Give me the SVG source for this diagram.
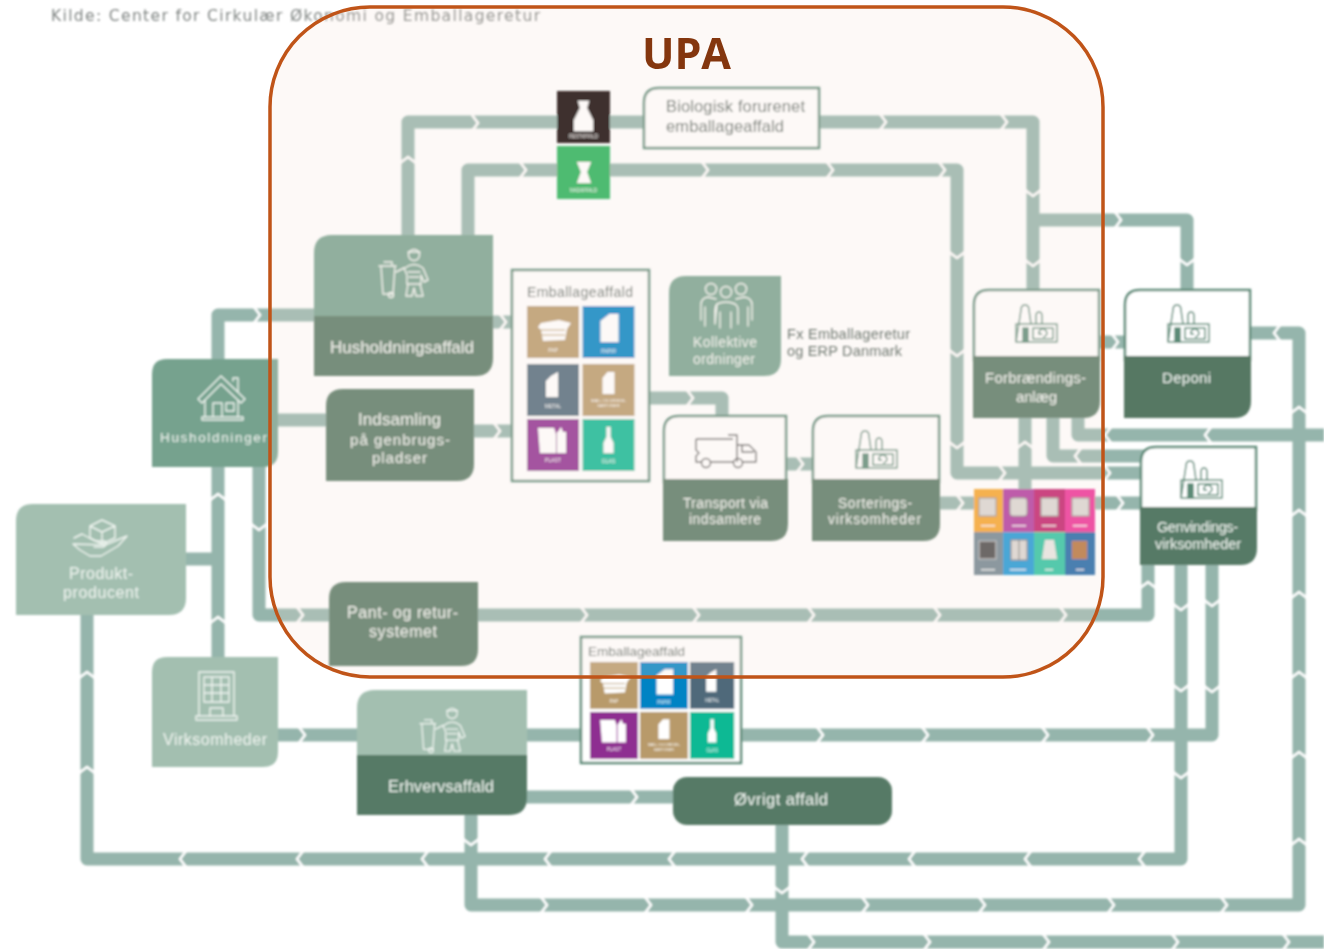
<svg xmlns="http://www.w3.org/2000/svg" xmlns:xlink="http://www.w3.org/1999/xlink" width="1324" height="949" viewBox="0 0 1324 949">
<style>
text{font-family:"Liberation Sans","Noto Sans",sans-serif}
.ln{fill:none;stroke:#95b5ac;stroke-width:13;stroke-linejoin:round}
.cv{fill:none;stroke:#fff;stroke-width:2.5}
.lt{fill:#eef4ef}
.dk{fill:#4f5f58}
.ic{fill:none;stroke:#eef4ef;stroke-width:1.4;stroke-linejoin:round;stroke-linecap:round}
.fc{fill:none;stroke:#5b8a77;stroke-width:1.5;stroke-linejoin:round}
.hd{fill:#fff;stroke:#5b8a77;stroke-width:2.5}
.tl{fill:#fff;font-size:5px;text-anchor:middle}
.w{fill:#fff}
</style>
<defs>
<filter id="soft" x="0" y="0" width="1324" height="949" filterUnits="userSpaceOnUse"><feGaussianBlur stdDeviation="0.8"/></filter>
<path id="cr" class="cv" d="M-3-8 3 0-3 8"/>
<path id="cl" class="cv" d="M3-8-3 0 3 8"/>
<path id="cu" class="cv" d="M-8 3 0-3 8 3"/>
<path id="cd" class="cv" d="M-8-3 0 3 8-3"/>
<g id="factory" class="fc">
<path d="M1 40 6 8Q6 3 10 3T14 8L16 22"/><path d="M21 22V14Q21 10 24 10T27 14V22"/><rect x="1" y="22" width="41" height="18"/><rect x="8" y="26" width="5" height="14" fill="#5b8a77"/><rect x="18" y="26" width="20" height="11"/><path d="M24 32a4 4 0 1 1 4 3M24 29v3h3"/>
</g>
<g id="worker" class="ic">
<path d="M1 18H18M3 18 5 46H15L17 18M6 14H14V18"/><circle cx="13" cy="47" r="2.5"/><path d="M18 24 26 20"/>
<circle cx="36" cy="7" r="5.5"/><path d="M30 4H42M27 20Q36 13 45 20L50 32 46 34 43 27V36H29V27L26 20M30 36 28 48H34L36 40 38 48H45L42 36M30 24H42M31 29H41"/>
</g>
<g id="t-pap"><rect width="52" height="52" fill="#b89a6a"/><path class="w" d="M14 17 32 14 44 17 40 23 38 34 16 35 14 24 11 21Z"/><path d="M13 24H38M14 29H38" stroke="#b89a6a" stroke-width="1"/><text class="tl" x="26" y="46">PAP</text></g>
<g id="t-papir"><rect width="52" height="52" fill="#0083c4"/><path class="w" d="M18 15 27 8H36V36H18Z"/><text class="tl" x="26" y="47">PAPIR</text></g>
<g id="t-metal"><rect width="52" height="52" fill="#50697a"/><path class="w" d="M19 17 24 12 31 8V33H19Z"/><text class="tl" x="26" y="44">METAL</text></g>
<g id="t-kart"><rect width="52" height="52" fill="#b89a6a"/><path class="w" d="M20 14 25 8H32V30H20Z"/><text class="tl" x="26" y="38" style="font-size:4px">MAD- OG DRIKKE-</text><text class="tl" x="26" y="43" style="font-size:4px">KARTONER</text></g>
<g id="t-plast"><rect width="52" height="52" fill="#8e2f91"/><path class="w" d="M11 9H27L29 15V34H13ZM31 13 34 8 36 13H39V34H30V13Z"/><text class="tl" x="26" y="43">PLAST</text></g>
<g id="t-glas"><rect width="52" height="52" fill="#0bb994"/><path class="w" d="M24 8H28V18L31 24V34H21V24L24 18Z"/><text class="tl" x="26" y="44">GLAS</text></g>
</defs>

<g filter="url(#soft)">
<text x="51" y="21" font-size="15.5" fill="#808583" textLength="489" style="font-family:'DejaVu Sans',sans-serif">Kilde: Center for Cirkulær Økonomi og Emballageretur</text>

<g id="connectors">
<path class="ln" d="M408 240V122H1033V295"/>
<path class="ln" d="M1033 220H1187V295"/>
<path class="ln" d="M468 240V170H957V473H1145"/>
<path class="ln" d="M1025 415V495"/>
<path class="ln" d="M1053 415V456H1145"/>
<path class="ln" d="M1078 415V435H1324"/>
<path class="ln" d="M1095 342H1130"/>
<path class="ln" d="M1245 333H1299V905H471V810"/>
<path class="ln" d="M87 610V859H1181V560"/>
<path class="ln" d="M1212 560V735H270"/>
<path class="ln" d="M259 460V615H1148V560"/>
<path class="ln" d="M320 315H218V365"/>
<path class="ln" d="M270 420H330"/>
<path class="ln" d="M218 460V665"/>
<path class="ln" d="M180 559H218"/>
<path class="ln" d="M470 431H515"/>
<path class="ln" d="M488 322H515"/>
<path class="ln" d="M645 398H722V420"/>
<path class="ln" d="M782 464H818"/>
<path class="ln" d="M935 503H1145"/>
<path class="ln" d="M520 797H680"/>
<path class="ln" d="M782 820V942H1324"/>
<use href="#cu" x="408" y="160"/><use href="#cr" x="475" y="123"/><use href="#cr" x="883" y="122"/><use href="#cr" x="1004" y="122"/><use href="#cd" x="1033" y="193"/><use href="#cd" x="1033" y="263"/>
<use href="#cr" x="1118" y="220"/><use href="#cd" x="1187" y="262"/>
<use href="#cr" x="523" y="170"/><use href="#cr" x="705" y="170"/><use href="#cr" x="830" y="170"/><use href="#cr" x="942" y="170"/><use href="#cd" x="957" y="255"/><use href="#cd" x="957" y="353"/><use href="#cd" x="957" y="445"/><use href="#cr" x="1002" y="473"/><use href="#cr" x="1107" y="473"/>
<use href="#cu" x="1025" y="445"/><use href="#cl" x="1078" y="456"/><use href="#cl" x="1108" y="435"/><use href="#cl" x="1208" y="435"/>
<use href="#cr" x="1115" y="342"/><use href="#cl" x="1277" y="333"/>
<use href="#cu" x="1299" y="410"/><use href="#cu" x="1299" y="513"/><use href="#cu" x="1299" y="595"/><use href="#cu" x="1299" y="675"/><use href="#cu" x="1299" y="755"/><use href="#cu" x="1299" y="842"/>
<use href="#cr" x="544" y="905"/><use href="#cr" x="648" y="905"/><use href="#cr" x="749" y="905"/><use href="#cr" x="865" y="905"/><use href="#cr" x="982" y="905"/><use href="#cr" x="1111" y="905"/><use href="#cr" x="1224" y="905"/><use href="#cd" x="471" y="842"/>
<use href="#cl" x="1142" y="859"/><use href="#cl" x="1028" y="859"/><use href="#cl" x="912" y="859"/><use href="#cl" x="805" y="859"/><use href="#cl" x="672" y="859"/><use href="#cl" x="548" y="859"/><use href="#cl" x="425" y="859"/><use href="#cl" x="300" y="859"/><use href="#cl" x="183" y="859"/><use href="#cu" x="87" y="675"/><use href="#cu" x="87" y="770"/>
<use href="#cd" x="1181" y="607"/><use href="#cd" x="1181" y="688"/><use href="#cd" x="1181" y="775"/>
<use href="#cd" x="1212" y="603"/><use href="#cd" x="1212" y="689"/><use href="#cr" x="1045" y="735"/><use href="#cr" x="1150" y="735"/><use href="#cr" x="820" y="735"/><use href="#cr" x="925" y="735"/><use href="#cr" x="302" y="735"/>
<use href="#cu" x="1148" y="585"/><use href="#cr" x="1063" y="615"/><use href="#cr" x="937" y="615"/><use href="#cr" x="811" y="615"/><use href="#cr" x="696" y="615"/><use href="#cr" x="584" y="615"/><use href="#cr" x="300" y="615"/><use href="#cd" x="259" y="527"/>
<use href="#cr" x="257" y="315"/><use href="#cu" x="218" y="497"/><use href="#cu" x="218" y="620"/><use href="#cr" x="497" y="431"/><use href="#cr" x="503" y="322"/>
<use href="#cr" x="690" y="398"/><use href="#cr" x="800" y="464"/><use href="#cr" x="960" y="503"/><use href="#cr" x="1120" y="503"/><use href="#cr" x="634" y="797"/>
<use href="#cd" x="782" y="890"/><use href="#cr" x="811" y="942"/><use href="#cr" x="927" y="942"/><use href="#cr" x="1046" y="942"/><use href="#cr" x="1175" y="942"/><use href="#cr" x="1286" y="942"/>
</g>

<g id="node-biologisk">
<rect x="557" y="91" width="53" height="52" fill="#0e0606"/>
<path class="w" d="M578 101H589L587 108 593 120V131H574V120L580 108Z"/>
<text class="tl" x="583.5" y="138" style="font-size:4.5px">RESTAFFALD</text>
<rect x="557" y="146" width="53" height="53" fill="#20b157"/>
<path class="w" d="M577 162H591L587 172 591 183H577L581 172Z"/>
<text class="tl" x="583.5" y="192" style="font-size:4.5px">MADAFFALD</text>
<path class="hd" d="M659 88H819V148H644V103Q644 88 659 88Z"/>
<text class="dk" x="666" y="112" font-size="16.5" textLength="139">Biologisk forurenet</text>
<text class="dk" x="666" y="132" font-size="16.5" textLength="118">emballageaffald</text>
</g>

<g id="node-husholdningsaffald">
<path fill="#76a28e" d="M332 235H493V318H314V253Q314 235 332 235Z"/>
<path fill="#577864" d="M314 316H493V358Q493 376 475 376H314Z"/>
<use href="#worker" transform="translate(378 248)"/>
<text class="lt" x="330" y="353" font-size="17" textLength="144">Husholdningsaffald</text>
</g>

<g id="node-husholdninger">
<path fill="#76a28e" d="M167 359H278V452Q278 467 263 467H152V374Q152 359 167 359Z"/>
<g class="ic"><path d="M198 399 221 376 245 399 241 403 221 384 202 403ZM233 381V378H238V392M205 400V417H238V400M213 417V403H222V417M226 403H234V411H226ZM202 420H243V417H202Z"/></g>
<text class="lt" x="160" y="442" font-size="13.5" textLength="107">Husholdninger</text>
</g>

<g id="node-indsamling">
<path fill="#577864" d="M343 389H474V464Q474 481 457 481H326V406Q326 389 343 389Z"/>
<text class="lt" x="358" y="425" font-size="17" textLength="83">Indsamling</text>
<text class="lt" x="350" y="445" font-size="15" textLength="100">på genbrugs-</text>
<text class="lt" x="372" y="463" font-size="15" textLength="55">pladser</text>
</g>

<g id="node-produkt">
<path fill="#a3bfb0" d="M33 504H186V598Q186 615 169 615H16V521Q16 504 33 504Z"/>
<g class="ic"><path d="M90 526 102 520 115 526V538L102 544 90 538ZM90 526 102 532 115 526M102 532V544"/><path d="M74 538 82 534 95 541H105Q108 545 103 547H94M105 545 127 536 118 546 101 556H90L80 550 73 544Z"/></g>
<text class="lt" x="69" y="579" font-size="16" textLength="64">Produkt-</text>
<text class="lt" x="63" y="598" font-size="16" textLength="76">producent</text>
</g>

<g id="node-virksomheder">
<path fill="#a3bfb0" d="M167 657H278V752Q278 767 263 767H152V672Q152 657 167 657Z"/>
<g class="ic"><path d="M199 672H234V716H199ZM196 716H237V720H196Z"/><path d="M204 677H229V702H204ZM204 685H229M204 693H229M212 677V702M221 677V702M210 716V708H223V716"/></g>
<text class="lt" x="163" y="745" font-size="16" textLength="104">Virksomheder</text>
</g>

<g id="node-pant">
<path fill="#577864" d="M346 582H478V649Q478 666 461 666H329V599Q329 582 346 582Z"/>
<text class="lt" x="347" y="618" font-size="16" textLength="111">Pant- og retur-</text>
<text class="lt" x="369" y="637" font-size="16" textLength="68">systemet</text>
</g>

<g id="node-emballage-1">
<rect class="hd" x="512" y="270" width="137" height="211"/>
<text class="dk" x="527" y="297" font-size="14" textLength="106">Emballageaffald</text>
<use href="#t-pap" transform="translate(527 306)"/><use href="#t-papir" transform="translate(582.500 306)"/>
<use href="#t-metal" transform="translate(527 364)"/><use href="#t-kart" transform="translate(582.500 364)"/>
<use href="#t-plast" transform="translate(527 419)"/><use href="#t-glas" transform="translate(582.500 419)"/>
</g>

<g id="node-kollektive">
<path fill="#76a28e" d="M686 276H781V359Q781 376 764 376H669V293Q669 276 686 276Z"/>
<g class="ic"><circle cx="711" cy="289" r="5.500"/><circle cx="726" cy="292" r="5.500"/><circle cx="741" cy="289" r="5.500"/><path d="M716 299 708 297Q701 298 701 305V320M705 307V326M736 299 744 297Q752 298 752 305V320M748 307V326M717 304Q726 300 735 304 738 306 738 310V324M715 324V310Q715 306 717 304ZM720 312V328M731 312V328"/></g>
<text class="lt" x="693" y="347" font-size="14" textLength="64">Kollektive</text>
<text class="lt" x="693" y="364" font-size="14" textLength="62">ordninger</text>
<text class="dk" x="787" y="339" font-size="14.5" textLength="123">Fx Emballageretur</text>
<text class="dk" x="787" y="356" font-size="14.5" textLength="115">og ERP Danmark</text>
</g>

<g id="node-transport">
<path class="hd" d="M679 416H786V482H664V431Q664 416 679 416Z"/>
<path fill="#577864" d="M663 479H788V524Q788 541 771 541H663Z"/>
<g fill="none" stroke="#555" stroke-width="1.400" stroke-linejoin="round"><path d="M696 439H733M696 439V450L699 453 696 456V462H701M711 462H733M743 462H756V452L749 445H737V435H728M737 445V462M742 445V452H754"/><circle cx="706" cy="463" r="4.500"/><circle cx="738" cy="463" r="4.500"/></g>
<text class="lt" x="683" y="508" font-size="13.8" textLength="85">Transport via</text>
<text class="lt" x="689" y="524" font-size="13.8" textLength="72">indsamlere</text>
</g>

<g id="node-sortering">
<path class="hd" d="M828 416H939V482H813V431Q813 416 828 416Z"/>
<path fill="#577864" d="M812 479H940V524Q940 541 923 541H812Z"/>
<use href="#factory" transform="translate(855 428)"/>
<text class="lt" x="838" y="508" font-size="13.8" textLength="74">Sorterings-</text>
<text class="lt" x="828" y="524" font-size="13.8" textLength="93">virksomheder</text>
</g>

<g id="node-forbraending">
<path class="hd" d="M989 290H1099V360H974V305Q974 290 989 290Z"/>
<path fill="#577864" d="M973 356H1100V401Q1100 418 1083 418H973Z"/>
<use href="#factory" transform="translate(1015 302)"/>
<text class="lt" x="985" y="383" font-size="15" textLength="101">Forbrændings-</text>
<text class="lt" x="1016" y="402" font-size="15" textLength="41">anlæg</text>
</g>

<g id="node-deponi">
<path class="hd" d="M1140 290H1250V360H1125V305Q1125 290 1140 290Z"/>
<path fill="#577864" d="M1124 356H1251V401Q1251 418 1234 418H1124Z"/>
<use href="#factory" transform="translate(1167 302)"/>
<text class="lt" x="1162" y="383" font-size="15" textLength="49">Deponi</text>
</g>

<g id="node-tiles">
<rect x="974" y="489" width="29" height="43" fill="#f5a42a"/><rect x="1003" y="489" width="31" height="43" fill="#b0399e"/><rect x="1034" y="489" width="31" height="43" fill="#c01f6b"/><rect x="1065" y="489" width="30" height="43" fill="#ec2d96"/>
<rect x="974" y="532" width="29" height="43" fill="#6f8590"/><rect x="1003" y="532" width="31" height="43" fill="#1d98d6"/><rect x="1034" y="532" width="31" height="43" fill="#2cc3a0"/><rect x="1065" y="532" width="30" height="43" fill="#1e65a5"/>
<g fill="#d9d6d2" stroke="#8a8a8a"><rect x="979" y="498" width="17" height="18"/><rect x="1010" y="498" width="17" height="18" rx="3"/><rect x="1041" y="498" width="17" height="18"/><rect x="1072" y="498" width="17" height="18"/></g>
<rect x="979" y="541" width="17" height="18" fill="#4a4a4a" stroke="#ccc"/><rect x="1011" y="540" width="16" height="20" fill="#d9d6d2" stroke="#777"/><path d="M1019 540V560" stroke="#777"/><path d="M1045 540H1054L1057 559H1042Z" fill="#e6e6e2"/><rect x="1072" y="541" width="15" height="18" fill="#b5733a"/>
<g fill="#fff" opacity=".8"><rect x="981" y="525" width="14" height="1.500"/><rect x="1012" y="525" width="14" height="1.500"/><rect x="1042" y="525" width="14" height="1.500"/><rect x="1073" y="525" width="14" height="1.500"/><rect x="981" y="569" width="14" height="1.500"/><rect x="1010" y="569" width="16" height="1.500"/><rect x="1045" y="569" width="8" height="1.500"/><rect x="1076" y="569" width="8" height="1.500"/></g>
</g>

<g id="node-genvinding">
<path class="hd" d="M1156 447H1256V510H1141V462Q1141 447 1156 447Z"/>
<path fill="#577a66" d="M1140 507H1257V548Q1257 565 1240 565H1140Z"/>
<use href="#factory" transform="translate(1180 458)"/>
<text class="lt" x="1157" y="532" font-size="14.5" textLength="81">Genvindings-</text>
<text class="lt" x="1155" y="549" font-size="14.5" textLength="86">virksomheder</text>
</g>

<g id="node-emballage-2">
<rect class="hd" x="581" y="637" width="160" height="126"/>
<text class="dk" x="588" y="656" font-size="13.5" textLength="97">Emballageaffald</text>
<use href="#t-pap" transform="translate(590 662) scale(.92 .9)"/><use href="#t-papir" transform="translate(640 662) scale(.92 .9)"/><use href="#t-metal" transform="translate(690 662) scale(.85 .9)"/>
<use href="#t-plast" transform="translate(590 712) scale(.92 .9)"/><use href="#t-kart" transform="translate(640 712) scale(.92 .9)"/><use href="#t-glas" transform="translate(690 712) scale(.85 .9)"/>
</g>

<g id="node-erhverv">
<path fill="#a3bfb0" d="M375 690H527V757H357V708Q357 690 375 690Z"/>
<path fill="#577a66" d="M357 755H527V797Q527 815 509 815H357Z"/>
<use href="#worker" transform="translate(419 707) scale(.92)"/>
<text class="lt" x="388" y="792" font-size="16.5" textLength="106">Erhvervsaffald</text>
</g>

<g id="node-ovrigt">
<rect x="673" y="777" width="219" height="48" rx="14" fill="#577a66"/>
<text class="lt" x="734" y="805" font-size="16.5" textLength="94">Øvrigt affald</text>
</g>
</g>

<g id="node-upa">
<rect x="270" y="7" width="833" height="670" rx="100" fill="#f5e1d7" fill-opacity=".21" stroke="#c05418" stroke-width="3.500"/>
<text x="642" y="69" font-size="43" font-weight="700" fill="#84360e" textLength="89" style="font-family:'Open Sans',sans-serif">UPA</text>
</g>
</svg>
